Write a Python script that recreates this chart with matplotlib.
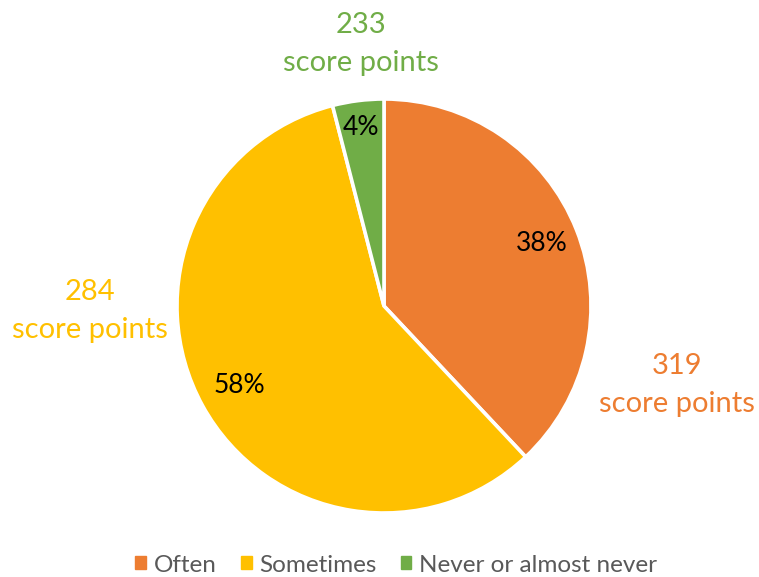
import matplotlib
matplotlib.use("Agg")
import matplotlib.pyplot as plt
import numpy as np

categories = ["Often", "Sometimes", "Never or almost never"]
shares = [38, 58, 4]
score_points = [319, 284, 233]
colors = ["#ED7D31", "#FFC000", "#70AD47"]

plt.rcParams['font.family'] = ['Lato', 'DejaVu Sans']

W, H = 759, 577
fig = plt.figure(figsize=(W / 100, H / 100), dpi=100)
cx, cy, r = 384, 306, 207
ax = fig.add_axes([(cx - r) / W, (H - cy - r) / H, 2 * r / W, 2 * r / H])

wedges, _ = ax.pie(shares, colors=colors, startangle=90, counterclock=False,
                   radius=1, wedgeprops=dict(edgecolor="white", linewidth=2.6))
ax.set_xlim(-1, 1)
ax.set_ylim(-1, 1)
ax.set_aspect('auto')
ax.axis('off')

pct_dist = [0.82, 0.80, 0.87]
for w, s, d in zip(wedges, shares, pct_dist):
    ang = np.deg2rad((w.theta1 + w.theta2) / 2)
    ax.text(d * np.cos(ang), d * np.sin(ang), f"{s}%", ha="center", va="center",
            fontsize=19, color="black")

# outside labels (pixel positions of label centers)
label_pos = [(677, 385), (90, 311), (361, 44)]
for (px, py), v, c in zip(label_pos, score_points, colors):
    fig.text(px / W, 1 - py / H, f"{v}\nscore points", ha="center", va="center",
             fontsize=21, color=c, linespacing=1.55)

handles = [plt.Rectangle((0, 0), 1, 1, color=c) for c in colors]
leg = fig.legend(handles, categories, loc="center", bbox_to_anchor=(396 / W, 1 - 565 / H),
                 ncol=3, frameon=False, fontsize=17.5, handlelength=0.45, handleheight=0.45,
                 handletextpad=0.3, columnspacing=1.0, labelcolor="#595959")

fig.savefig("out.png", dpi=100)
